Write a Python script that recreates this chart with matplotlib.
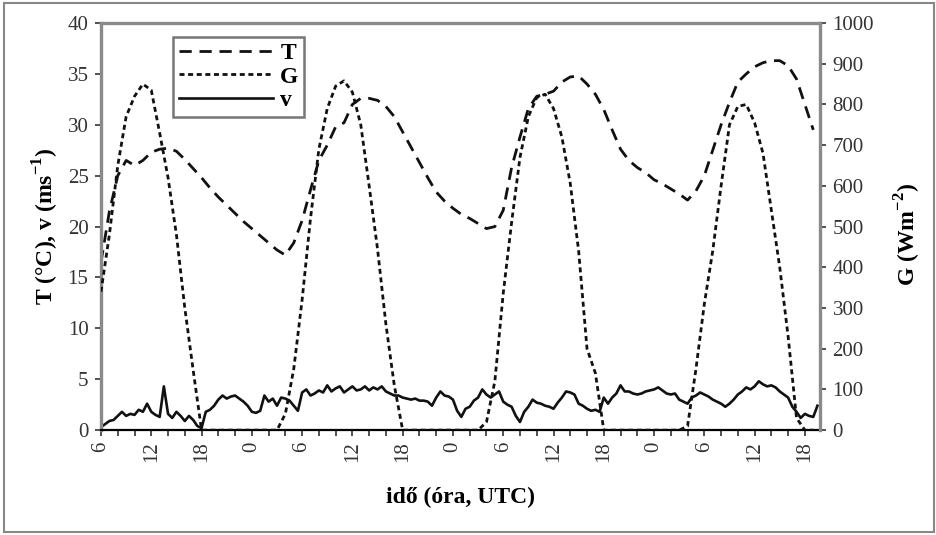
import numpy as np
import matplotlib.pyplot as plt
from matplotlib.patches import Rectangle

plt.rcParams['font.family'] = ['Liberation Serif', 'DejaVu Serif']
plt.rcParams['mathtext.fontset'] = 'custom'
plt.rcParams['mathtext.rm'] = 'Liberation Serif'
plt.rcParams['mathtext.bf'] = 'Liberation Serif:bold'

# hours since 06 UTC of the first day
hours = np.arange(0, 86)
T = [16.5, 21.5, 25.0, 26.5, 26.0, 26.5, 27.3, 27.6, 27.7, 27.4, 26.6, 25.7,
     24.8, 23.8, 22.9, 22.1, 21.3, 20.5, 19.8, 19.1, 18.4, 17.7, 17.2, 18.4,
     20.6, 23.6, 26.5, 28.0, 29.8, 30.2, 32.0, 32.6, 32.6, 32.4, 31.8, 30.8,
     29.3, 27.8, 26.3, 24.8, 23.4, 22.5, 21.8, 21.2, 20.8, 20.3, 19.8, 20.0,
     21.6, 25.8, 28.8, 31.6, 32.8, 33.0, 33.3, 34.2, 34.7, 34.8, 34.0, 33.0,
     31.5, 29.5, 27.6, 26.5, 25.8, 25.3, 24.6, 24.2, 23.7, 23.2, 22.6, 23.5,
     25.0, 27.5, 30.0, 32.2, 34.2, 35.0, 35.7, 36.1, 36.3, 36.3, 35.8, 34.5,
     32.0, 29.5]
G = [340, 480, 650, 770, 820, 850, 835, 730, 620, 480, 300, 147,
     0, 0, 0, 0, 0, 0, 0, 0, 0, 0, 40, 150,
     320, 520, 690, 790, 845, 858, 830, 750, 600, 445, 260, 110,
     0, 0, 0, 0, 0, 0, 0, 0, 0, 0, 20, 120,
     336, 510, 670, 770, 817, 825, 790, 720, 606, 440, 200, 140,
     0, 0, 0, 0, 0, 0, 0, 0, 0, 0, 10, 150,
     310, 440, 600, 750, 795, 800, 755, 680, 540, 400, 230, 30,
     0, 0]

# wind speed, half-hourly
v_hours = np.arange(0, 86, 0.5)
v = [0.3, 0.6, 0.9, 1.0, 1.4, 1.8, 1.4, 1.6, 1.5, 2.0, 1.8, 2.6,
     1.8, 1.5, 1.3, 4.3, 1.6, 1.2, 1.8, 1.4, 0.9, 1.4, 1.0, 0.4,
     0.2, 1.8, 2.0, 2.4, 3.0, 3.4, 3.1, 3.3, 3.4, 3.1, 2.8, 2.4,
     1.8, 1.7, 1.9, 3.4, 2.8, 3.1, 2.4, 3.2, 3.1, 2.9, 2.4, 1.9,
     3.7, 4.0, 3.4, 3.6, 3.9, 3.7, 4.4, 3.8, 4.1, 4.3, 3.7, 4.0,
     4.3, 3.9, 4.0, 4.3, 3.9, 4.2, 4.0, 4.3, 3.8, 3.6, 3.4, 3.4,
     3.2, 3.1, 3.0, 3.1, 2.9, 2.9, 2.8, 2.4, 3.2, 3.8, 3.4, 3.3,
     3.0, 1.9, 1.3, 2.1, 2.3, 2.9, 3.2, 4.0, 3.5, 3.2, 3.5, 3.8,
     2.8, 2.5, 2.3, 1.4, 0.8, 1.8, 2.3, 3.0, 2.7, 2.6, 2.4, 2.3,
     2.1, 2.7, 3.2, 3.8, 3.7, 3.5, 2.6, 2.4, 2.1, 1.9, 2.0, 1.8,
     3.2, 2.6, 3.2, 3.6, 4.4, 3.8, 3.8, 3.6, 3.5, 3.6, 3.8, 3.9,
     4.0, 4.2, 3.9, 3.6, 3.5, 3.6, 3.0, 2.8, 2.6, 3.2, 3.4, 3.7,
     3.5, 3.3, 3.0, 2.8, 2.6, 2.3, 2.6, 3.0, 3.5, 3.8, 4.2, 4.0,
     4.3, 4.8, 4.5, 4.3, 4.4, 4.2, 3.8, 3.5, 3.2, 2.3, 1.8, 1.2,
     1.6, 1.4, 1.3, 2.4]

tick_pos = np.arange(0, 85, 6)
tick_labels = ['6', '12', '18', '0', '6', '12', '18', '0',
               '6', '12', '18', '0', '6', '12', '18']

fig = plt.figure(figsize=(9.37, 5.35), dpi=100)
ax = fig.add_axes([0.1078, 0.196, 0.7673, 0.761])
ax2 = ax.twinx()

lT, = ax.plot(hours, T, color='#111111', lw=2.0, dashes=(4.4, 2.8), label='T')
lG, = ax2.plot(hours, G, color='#111111', lw=2.0, dashes=(1.8, 1.3), label='G')
lv, = ax.plot(v_hours, v, color='#111111', lw=1.9, label='v')

ax.set_xlim(0, 85.8)
ax.set_ylim(0, 40)
ax2.set_ylim(0, 1000)
ax.set_yticks(np.arange(0, 41, 5))
ax2.set_yticks(np.arange(0, 1001, 100))
ax.set_xticks(tick_pos)
ax.set_xticklabels(tick_labels, rotation=90)
ax.set_xticks(np.arange(0, 86, 2), minor=True)

tc = '#333333'
ax.tick_params(axis='x', which='both', direction='out', length=4, width=1.2,
               color=tc, labelsize=15, labelcolor=tc, pad=4)
ax.tick_params(axis='y', direction='out', length=4, width=1.2, color=tc,
               labelsize=15, labelcolor=tc, pad=5)
ax2.tick_params(axis='y', direction='out', length=4, width=1.2, color=tc,
                labelsize=15, labelcolor=tc, pad=5)

gray = '#8a8a8a'
for s in ['left', 'top']:
    ax.spines[s].set_color(gray)
    ax.spines[s].set_linewidth(2.4)
ax.spines['right'].set_visible(False)
ax.spines['bottom'].set_color('black')
ax.spines['bottom'].set_linewidth(1.6)
for s in ['left', 'top', 'bottom']:
    ax2.spines[s].set_visible(False)
ax2.spines['right'].set_color(gray)
ax2.spines['right'].set_linewidth(2.4)

ax.set_xlabel('idő (óra, UTC)', fontsize=17, fontweight='bold')
ax.xaxis.set_label_coords(0.5, -0.14)
ax.set_ylabel(r'T (°C), v (ms$^{\mathbf{-1}}$)', fontsize=17, fontweight='bold')
ax.yaxis.set_label_coords(-0.055, 0.5)
ax2.set_ylabel(r'G (Wm$^{\mathbf{-2}}$)', fontsize=17, fontweight='bold')
ax2.yaxis.set_label_coords(1.1015, 0.48)

leg = ax2.legend([lT, lG, lv], ['T', 'G', 'v'], loc='upper left',
                 bbox_to_anchor=(0.100, 0.966), frameon=True, fancybox=False,
                 edgecolor='#777777', framealpha=1,
                 prop={'weight': 'bold', 'size': 17},
                 handlelength=4.0, handletextpad=0.3, labelspacing=0.08,
                 borderpad=0.25, borderaxespad=0)
leg.get_frame().set_linewidth(1.8)

fig.patches.append(Rectangle((0.0043, 0.0056), 0.9925, 0.9888,
                             transform=fig.transFigure, fill=False,
                             ec='#888888', lw=1.5))

fig.savefig('out.png', dpi=100)
